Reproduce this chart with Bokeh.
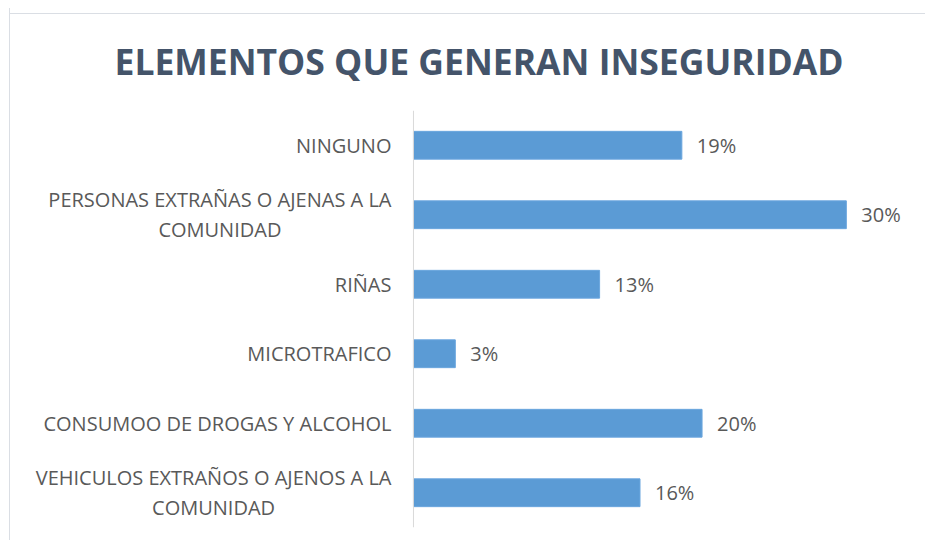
from bokeh.plotting import figure
from bokeh.models import ColumnDataSource, FactorRange, Range1d, Span
from bokeh.core.properties import value
from bokeh.embed import file_html
from bokeh.resources import INLINE

title_text = "ELEMENTOS QUE GENERAN INSEGURIDAD"
categories = [
    "NINGUNO",
    "PERSONAS EXTRAÑAS O AJENAS A LA\nCOMUNIDAD",
    "RIÑAS",
    "MICROTRAFICO",
    "CONSUMOO DE DROGAS Y ALCOHOL",
    "VEHICULOS EXTRAÑOS O AJENOS A LA\nCOMUNIDAD",
]
values = [18.6, 30.0, 12.9, 2.9, 20.0, 15.7]
value_labels = ["19%", "30%", "13%", "3%", "20%", "16%"]

FONT = "Open Sans"
TEXT_COLOR = "#595959"
FRAME_COLOR = "#DADEE4"

source = ColumnDataSource(dict(cat=categories, val=values, lab=value_labels,
                               base=[0] * len(values)))

p = figure(
    width=916,
    height=532,
    output_backend="svg",
    toolbar_location=None,
    y_range=FactorRange(factors=list(reversed(categories))),
    x_range=Range1d(-27.65, 34.1),
    min_border_left=4,
    min_border_right=21,
    min_border_top=102,
    min_border_bottom=13,
)
p.margin = (8, 0, 0, 9)
p.background_fill_color = None
p.border_fill_color = None
p.styles = {
    "border-left": f"1px solid {FRAME_COLOR}",
    "background": f"linear-gradient({FRAME_COLOR}, {FRAME_COLOR}) 0 5px / 100% 1px no-repeat",
}

p.title.text = title_text
p.title.align = "left"
p.title.offset = 100
p.title.standoff = 52
p.title.text_font = FONT
p.title.text_font_size = "35.5px"
p.title.text_font_style = "bold"
p.title.text_color = "#44546A"

p.add_layout(Span(location=0, dimension="height", line_color="#D9D9D9", line_width=1))

p.hbar(y="cat", right="val", left="base", height=0.4, source=source,
       fill_color="#5B9BD5", line_color="#6AA6DE", line_width=1)

p.text(x="val", y="cat", text="lab", source=source, x_offset=15,
       text_baseline="middle", text_align="left",
       text_font=value(FONT), text_font_size="20px", text_color=TEXT_COLOR)

p.text(x="base", y="cat", text="cat", source=source, x_offset=-22,
       anchor="center_right", text_align="center", text_baseline="middle",
       text_line_height=1.1,
       text_font=value(FONT), text_font_size="20px", text_color=TEXT_COLOR)

p.xaxis.visible = False
p.yaxis.visible = False
p.xgrid.visible = False
p.ygrid.visible = False
p.outline_line_color = None

open("out.html", "w").write(file_html(p, INLINE))
